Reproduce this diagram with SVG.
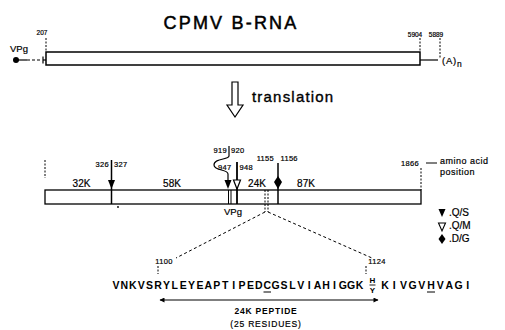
<svg xmlns="http://www.w3.org/2000/svg" width="505" height="330" viewBox="0 0 505 330">
<style>
text{font-family:"Liberation Sans",Arial,sans-serif;fill:#000;stroke:#000;stroke-width:0.2}
.sm{font-size:7.5px;letter-spacing:0.3px}
.lbl{font-size:10px}
.ln{stroke:#000;fill:none;stroke-width:1.2}
.dot{stroke:#000;fill:none;stroke-width:1;stroke-dasharray:2,1.5}
.dash{stroke:#000;fill:none;stroke-width:1;stroke-dasharray:3,2.5}
.seq{font-size:10.5px;font-weight:bold;stroke-width:0}
</style>
<defs>
<marker id="ah" viewBox="0 0 10 10" refX="9" refY="5" markerWidth="7" markerHeight="5" orient="auto-start-reverse" markerUnits="userSpaceOnUse">
<path d="M0,0 L10,5 L0,10 Z" fill="#000"/>
</marker>
</defs>
<rect width="505" height="330" fill="#fff"/>

<g id="title"><text x="231" y="29" text-anchor="middle" style="font-size:18px;letter-spacing:2.2px;stroke-width:0.5">CPMV B-RNA</text></g>

<g id="rna">
<rect x="46" y="52" width="374" height="13" fill="#fff" stroke="#000" stroke-width="1.5"/>
<circle cx="16" cy="60" r="3" fill="#000"/>
<line x1="16" y1="60" x2="27" y2="60" class="ln"/>
<line x1="27" y1="60" x2="42" y2="60" class="ln" stroke-dasharray="3,2"/>
<line x1="43" y1="56.5" x2="43" y2="63.5" class="ln"/>
<line x1="43" y1="60" x2="46" y2="60" class="ln"/>
<text x="10" y="52" style="font-size:9.5px">VPg</text>
<text x="42" y="35" text-anchor="middle" style="font-size:6.5px">207</text>
<line x1="46" y1="38" x2="46" y2="52" class="dot"/>
<line x1="420" y1="60" x2="438" y2="60" class="ln"/>
<line x1="420" y1="38" x2="420" y2="52" class="dot"/>
<line x1="440" y1="38" x2="440" y2="58" class="dot"/>
<text x="415" y="37" text-anchor="middle" style="font-size:6.5px">5904</text>
<text x="436" y="37" text-anchor="middle" style="font-size:6.5px">5889</text>
<text x="442" y="64" style="font-size:9.5px;letter-spacing:0.8px">(A)<tspan dy="3" style="font-size:8.5px">n</tspan></text>
</g>

<g id="translation">
<path d="M232,82 L238,82 L238,105 L243,105 L235,117 L227,105 L232,105 Z" fill="#fff" stroke="#000" stroke-width="1.2"/>
<text x="252" y="102" style="font-size:15px;letter-spacing:1.2px;stroke-width:0.35">translation</text>
</g>

<g id="polyprotein">
<rect x="45" y="190" width="376" height="14" fill="#fff" stroke="#000" stroke-width="1.3"/>
<line x1="45" y1="160" x2="45" y2="178" class="dot"/>
<text x="81.5" y="187" class="lbl" text-anchor="middle">32K</text>
<text x="172" y="187" class="lbl" text-anchor="middle">58K</text>
<text x="257" y="187" class="lbl" text-anchor="middle">24K</text>
<text x="306" y="187" class="lbl" text-anchor="middle">87K</text>
<line x1="228.5" y1="190" x2="228.5" y2="204" stroke="#000" stroke-width="1"/>
<line x1="231" y1="190" x2="231" y2="204" stroke="#000" stroke-width="1"/>
<line x1="265" y1="190" x2="265" y2="212" class="dot"/>
<line x1="268" y1="190" x2="268" y2="212" class="dot"/>
<text x="233" y="215" text-anchor="middle" style="font-size:9.5px">VPg</text>
<circle cx="118" cy="207" r="0.9" fill="#000"/>
<text x="419" y="166" class="sm" text-anchor="end">1866</text>
<line x1="421" y1="168" x2="421" y2="190" class="dot"/>
<line x1="426" y1="163" x2="437" y2="163" stroke="#000" stroke-width="1"/>
<text x="440" y="164" style="font-size:9px;letter-spacing:0.5px">amino acid</text>
<text x="440" y="174.5" style="font-size:9px;letter-spacing:0.5px">position</text>
</g>

<g id="cleavage-326">
<line x1="111.5" y1="160" x2="111.5" y2="204" stroke="#000" stroke-width="1.5"/>
<path d="M108,180 L115,180 L111.5,189 Z" fill="#000"/>
<text x="109" y="167" class="sm" text-anchor="end">326</text>
<text x="114" y="167" class="sm">327</text>
</g>

<g id="cleavage-919">
<path d="M229,146 L229,156 C229,160 214,158 214,165 C214,171 228,169 228,174 L228,181" class="ln"/>
<path d="M224.5,180 L231.5,180 L228,189 Z" fill="#000"/>
<text x="227" y="153" class="sm" text-anchor="end">919</text>
<text x="231" y="153" class="sm">920</text>
</g>

<g id="cleavage-947">
<line x1="237" y1="162" x2="237" y2="204" stroke="#000" stroke-width="1.8"/>
<path d="M233.5,180 L240.5,180 L237,189 Z" fill="#fff" stroke="#000" stroke-width="1.2"/>
<text x="218" y="170" class="sm">947</text>
<text x="239.5" y="170" class="sm">948</text>
</g>

<g id="cleavage-1155">
<line x1="278" y1="163" x2="278" y2="204" stroke="#000" stroke-width="1.5"/>
<path d="M278,176 L282,182 L278,189 L274,182 Z" fill="#000"/>
<text x="274" y="161" class="sm" text-anchor="end">1155</text>
<text x="280.5" y="161" class="sm">1156</text>
</g>

<g id="legend">
<path d="M438.5,209 L445.5,209 L442,217 Z" fill="#000"/>
<text x="449" y="216" class="lbl">.Q/S</text>
<path d="M438.5,223 L445.5,223 L442,231 Z" fill="#fff" stroke="#000" stroke-width="1.1"/>
<text x="449" y="229" class="lbl">.Q/M</text>
<path d="M442,234 L445.5,239 L442,244 L438.5,239 Z" fill="#000"/>
<text x="449" y="242" class="lbl">.D/G</text>
</g>

<g id="connectors">
<line x1="265" y1="212" x2="176" y2="258" class="dash"/>
<line x1="268" y1="212" x2="372" y2="258" class="dash"/>
</g>

<g id="peptide">
<text x="164" y="264" class="sm" text-anchor="middle">1100</text>
<line x1="158" y1="266" x2="158" y2="274" class="dot"/>
<text x="377" y="264" class="sm" text-anchor="middle">1124</text>
<line x1="366" y1="266" x2="366" y2="274" class="dot"/>
<text class="seq" text-anchor="middle" y="289" x="116 124.4 132.8 141.2 149.6 158 166.4 174.8 183.2 191.6 200 208.4 216.8 225.2 233.6 242 250.4 258.8 267.2 275.6 284 292.4 300.8 309.2 317.6 326 334.4 342.8 351.2 359.6">VNKVSRYLEYEAPTIPEDCGSLVIAHIGGK</text>
<line x1="263.5" y1="292" x2="271" y2="292" stroke="#000" stroke-width="1"/>
<text x="372.5" y="283" text-anchor="middle" style="font-size:8px;font-weight:bold;stroke-width:0">H</text>
<line x1="369.5" y1="285" x2="375.5" y2="285" stroke="#000" stroke-width="0.9"/>
<text x="372.5" y="293" text-anchor="middle" style="font-size:8px;font-weight:bold;stroke-width:0">Y</text>
<text class="seq" text-anchor="middle" y="289" x="385 394.2 403.4 412.6 421.8 431 440.2 449.4 458.6 467.8">KIVGVHVAGI</text>
<line x1="427" y1="292" x2="435" y2="292" stroke="#000" stroke-width="1"/>
<line x1="160" y1="300" x2="378" y2="300" stroke="#000" stroke-width="1.2" marker-start="url(#ah)" marker-end="url(#ah)"/>
<text x="266" y="314" text-anchor="middle" style="font-size:8.5px;font-weight:bold;letter-spacing:0.8px;stroke-width:0">24K PEPTIDE</text>
<text x="266" y="327" text-anchor="middle" style="font-size:8.5px;letter-spacing:0.8px">(25 RESIDUES)</text>
</g>
</svg>
